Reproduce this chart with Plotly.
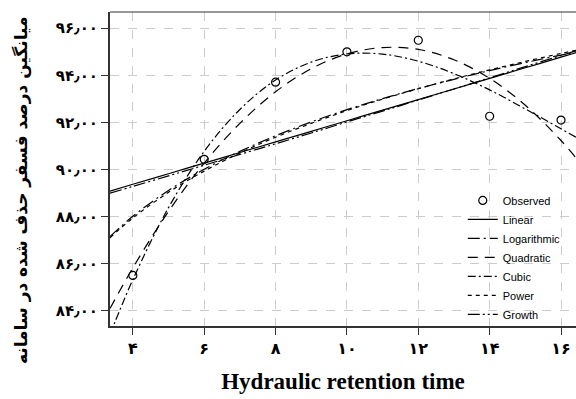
import plotly.graph_objects as go

# Observed data
obs_x = [4, 6, 8, 10, 12, 14, 16]
obs_y = [85.5, 90.43, 93.71, 95.0, 95.49, 92.26, 92.1]

# Fitted curves
fit_x = [3.36, 4, 5, 6, 7, 8, 9, 10, 11, 12, 13, 14, 15, 16, 16.42]
linear_y = [89.08, 89.37, 89.82, 90.27, 90.72, 91.17, 91.62, 92.07, 92.52, 92.97, 93.42, 93.87, 94.32, 94.77, 94.96]
log_y = [87.15, 88.01, 89.11, 90.01, 90.77, 91.43, 92.02, 92.54, 93.01, 93.44, 93.83, 94.20, 94.54, 94.86, 94.99]
quad_y = [84.09, 85.82, 88.22, 90.27, 91.96, 93.30, 94.28, 94.91, 95.18, 95.10, 94.66, 93.87, 92.73, 91.23, 90.49]
cubic_x = [3.36, 3.5, 4, 5, 6, 7, 8, 9, 10, 11, 12, 13, 14, 15, 16, 16.42]
cubic_y = [82.99, 83.52, 85.32, 88.38, 90.77, 92.55, 93.80, 94.56, 94.91, 94.90, 94.60, 94.07, 93.38, 92.57, 91.73, 91.37]
power_y = [87.10, 87.94, 89.03, 89.93, 90.70, 91.37, 91.96, 92.50, 92.99, 93.43, 93.85, 94.23, 94.59, 94.93, 95.06]
growth_y = [88.99, 89.28, 89.73, 90.18, 90.64, 91.09, 91.55, 92.02, 92.48, 92.95, 93.42, 93.89, 94.37, 94.84, 95.04]

x_tickvals = [4, 6, 8, 10, 12, 14, 16]
x_ticktext = ["۴", "۶", "۸", "۱۰", "۱۲", "۱۴", "۱۶"]
y_tickvals = [84, 86, 88, 90, 92, 94, 96]
y_ticktext = ["۸۴٫۰۰", "۸۶٫۰۰", "۸۸٫۰۰", "۹۰٫۰۰", "۹۲٫۰۰", "۹۴٫۰۰", "۹۶٫۰۰"]

x_title = "Hydraulic retention time"
y_title = "میانگین درصد فسفر حذف شده در سامانه"

fig = go.Figure()
fig.add_trace(go.Scatter(x=obs_x, y=obs_y, mode="markers", name="Observed",
                         marker=dict(symbol="circle-open", size=8, color="black", line=dict(width=1.2))))
line_specs = [
    ("Linear", fit_x, linear_y, "solid"),
    ("Logarithmic", fit_x, log_y, "12px,4px,2px,4px"),
    ("Quadratic", fit_x, quad_y, "10px,7px"),
    ("Cubic", cubic_x, cubic_y, "8px,3px,2px,3px"),
    ("Power", fit_x, power_y, "4px,4px"),
    ("Growth", fit_x, growth_y, "12px,3px,2px,3px,2px,3px"),
]
for name, xs, ys, dash in line_specs:
    fig.add_trace(go.Scatter(x=xs, y=ys, mode="lines", name=name, line_shape="spline",
                             line=dict(color="black", width=1.2, dash=dash)))

fig.update_layout(
    width=576, height=399,
    margin=dict(l=110, r=0, t=12, b=73),
    plot_bgcolor="white", paper_bgcolor="white",
    showlegend=True,
    legend=dict(x=0.757, y=0.446, xanchor="left", yanchor="top", bgcolor="rgba(0,0,0,0)",
                font=dict(family="Liberation Sans", size=11, color="black"),
                itemwidth=30, tracegroupgap=0),
    font=dict(family="DejaVu Sans", color="black"),
)
fig.update_xaxes(range=[3.36, 16.42], tickvals=x_tickvals, ticktext=x_ticktext,
                 showgrid=True, gridcolor="#cccccc", griddash="dash", gridwidth=1,
                 showline=True, linecolor="#333333", linewidth=2,
                 ticks="outside", ticklen=7, tickcolor="#333333",
                 tickfont=dict(family="DejaVu Sans", size=16, color="black", weight="bold"),
                 zeroline=False,
                 title=dict(text=x_title, font=dict(family="Liberation Serif", size=23, color="black", weight="bold"),
                            standoff=16))
fig.update_yaxes(range=[83.35, 96.69], tickvals=y_tickvals, ticktext=y_ticktext,
                 showgrid=True, gridcolor="#cccccc", griddash="dash", gridwidth=1,
                 showline=True, linecolor="#333333", linewidth=2,
                 ticks="outside", ticklen=7, tickcolor="#333333",
                 tickfont=dict(family="DejaVu Sans", size=15, color="black", weight="bold"),
                 zeroline=False)
fig.add_shape(type="line", xref="paper", yref="paper", x0=0, x1=1, y0=1, y1=1,
              line=dict(color="#333333", width=1.2))
fig.add_annotation(text=y_title, xref="paper", yref="paper", x=0, y=0.43, xshift=-88,
                   xanchor="center", yanchor="middle", textangle=-90, showarrow=False,
                   font=dict(family="DejaVu Sans", size=17, color="black", weight="bold"))

fig.write_html("out.html")
